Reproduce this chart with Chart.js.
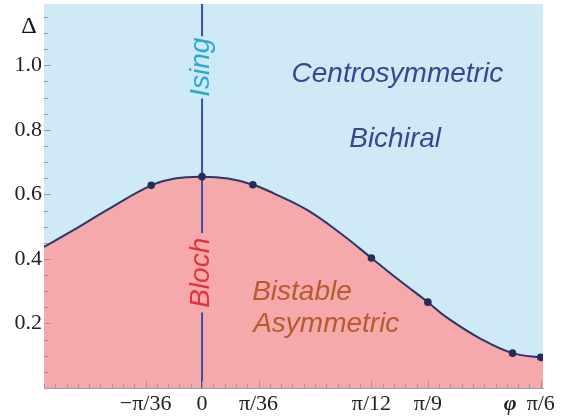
<!DOCTYPE html>
<html>
<head>
<meta charset="utf-8">
<script src="https://cdn.jsdelivr.net/npm/chart.js@4"></script>
<style>
  body { margin: 0; background: #fff; }
  canvas { display: block; }
</style>
</head>
<body>
<canvas id="phaseChart" width="565" height="418"></canvas>
<script>
/* ================= DATA ================= */
// boundary curve, phi in degrees, Delta
const curvePhi   = [-14.0, -11.4, -8.4, -4.5, -2.3, 0, 2.3, 4.5, 6.3, 9.3, 12.2, 15.0, 17.5, 20.0, 21.7, 24.6, 27.5, 30.2];
const curveDelta = [0.437, 0.489, 0.552, 0.628, 0.650, 0.655, 0.649, 0.630, 0.604, 0.552, 0.481, 0.403, 0.333, 0.266, 0.218, 0.154, 0.108, 0.094];

// computed points on the boundary
const markerPhi   = [-4.5, 0, 4.5, 15.0, 20.0, 27.5, 30.0];
const markerDelta = [0.628, 0.655, 0.630, 0.403, 0.266, 0.108, 0.095];

// vertical phi = 0 line, broken where the labels sit
const vlineDelta = [0, 0.234, null, 0.480, 0.897, null, 1.09, 1.19];

const xTickValues = [-5, 0, 5, 15, 20, 27.3, 30];
const xTickLabels = ["\u2212\u03c0/36", "0", "\u03c0/36", "\u03c0/12", "\u03c0/9", "\u03c6", "\u03c0/6"];
const yTickValues = [0.2, 0.4, 0.6, 0.8, 1.0];
const yTickLabels = ["0.2", "0.4", "0.6", "0.8", "1.0"];

const pts = (xs, ys) => xs.map((x, i) => ({ x: x, y: ys[i] }));

/* ================= PLUGINS ================= */
// inward frame ticks, Mathematica style
const frameTicks = {
  id: "frameTicks",
  afterDatasetsDraw(chart) {
    const { ctx, chartArea, scales: { x, y } } = chart;
    ctx.save();
    ctx.strokeStyle = "#9a9a9a";
    ctx.lineWidth = 1;
    ctx.beginPath();
    for (let v = -14; v <= 30; v += 1) {
      const px = Math.round(x.getPixelForValue(v)) + 0.5;
      const len = xTickValues.includes(v) ? 7 : 4;
      ctx.moveTo(px, chartArea.bottom);
      ctx.lineTo(px, chartArea.bottom - len);
    }
    for (let k = 1; k <= 23; k++) {
      const v = k * 0.05;
      const py = Math.round(y.getPixelForValue(v)) + 0.5;
      const len = k % 4 === 0 ? 7 : 4;
      ctx.moveTo(chartArea.left, py);
      ctx.lineTo(chartArea.left + len, py);
    }
    ctx.stroke();
    ctx.restore();
  }
};

// region names and line labels
const regionLabels = {
  id: "regionLabels",
  afterDatasetsDraw(chart) {
    const { ctx, chartArea, scales: { x, y } } = chart;
    ctx.save();
    ctx.textAlign = "center";
    ctx.textBaseline = "alphabetic";
    ctx.font = "italic 28px 'Liberation Sans', Arial, sans-serif";

    ctx.fillStyle = "#3b4692";
    ctx.fillText("Centrosymmetric", x.getPixelForValue(17.3), y.getPixelForValue(0.947));
    ctx.fillText("Bichiral", x.getPixelForValue(17.1), y.getPixelForValue(0.746));

    ctx.fillStyle = "#b85a30";
    ctx.fillText("Bistable", x.getPixelForValue(8.85), y.getPixelForValue(0.274));
    ctx.fillText("Asymmetric", x.getPixelForValue(11.0), y.getPixelForValue(0.172));

    ctx.textBaseline = "middle";
    const rot = (text, color, v) => {
      ctx.save();
      ctx.translate(x.getPixelForValue(0) - 1, y.getPixelForValue(v));
      ctx.rotate(-Math.PI / 2);
      ctx.fillStyle = color;
      ctx.fillText(text, 0, 0);
      ctx.restore();
    };
    rot("Ising", "#2ea6d6", 0.994);
    rot("Bloch", "#e2323e", 0.357);

    // axis symbol
    ctx.fillStyle = "#111";
    ctx.font = "24px 'Liberation Serif', 'Times New Roman', serif";
    ctx.fillText("\u0394", chartArea.left - 15, y.getPixelForValue(1.12));
    ctx.restore();
  }
};

/* ================= CHART ================= */
const serif = "'Liberation Serif', 'Times New Roman', serif";

new Chart(document.getElementById("phaseChart"), {
  type: "line",
  data: {
    datasets: [
      {
        data: pts(markerPhi, markerDelta),
        showLine: false,
        pointRadius: 3.8,
        pointBackgroundColor: "#262b5c",
        pointBorderWidth: 0,
        fill: false
      },
      {
        data: pts(curvePhi, curveDelta),
        borderColor: "#2d3569",
        borderWidth: 2,
        pointRadius: 0,
        tension: 0.4,
        fill: false
      },
      {
        data: vlineDelta.map(v => ({ x: 0, y: v })),
        borderColor: "#3d4ea6",
        borderWidth: 2,
        pointRadius: 0,
        spanGaps: false,
        fill: false
      },
      {
        data: pts(curvePhi, curveDelta),
        borderWidth: 0,
        pointRadius: 0,
        tension: 0.4,
        backgroundColor: "#f5a9aa",
        fill: "origin"
      },
      {
        data: pts(curvePhi, curveDelta),
        borderWidth: 0,
        pointRadius: 0,
        tension: 0.4,
        backgroundColor: "#cdeaf6",
        fill: "end"
      }
    ]
  },
  options: {
    responsive: false,
    animation: false,
    layout: { padding: { top: 3, right: 22, left: 0, bottom: 0 } },
    plugins: {
      legend: { display: false },
      tooltip: { enabled: false }
    },
    scales: {
      x: {
        type: "linear",
        min: -14,
        max: 30.2,
        grid: { display: false, drawTicks: false },
        border: { display: true, color: "#a0a0a0", width: 1 },
        afterBuildTicks: (scale) => {
          scale.ticks = xTickValues.map(v => ({ value: v }));
        },
        afterFit: (scale) => {
          scale.height = 30;
          scale.paddingLeft = 0;
          scale.paddingRight = 0;
        },
        ticks: {
          autoSkip: false,
          maxRotation: 0,
          padding: 3,
          color: "#222",
          font: (ctx) => ({
            family: serif,
            size: 22,
            style: ctx.index === 5 ? "italic" : "normal",
            weight: ctx.index === 5 ? "bold" : "normal"
          }),
          callback: (value, index) => xTickLabels[index]
        }
      },
      y: {
        type: "linear",
        min: 0,
        max: 1.19,
        grid: { display: false, drawTicks: false },
        border: { display: true, color: "#a0a0a0", width: 1 },
        afterBuildTicks: (scale) => {
          scale.ticks = yTickValues.map(v => ({ value: v }));
        },
        afterFit: (scale) => {
          scale.width = 44;
          scale.paddingTop = 0;
          scale.paddingBottom = 0;
        },
        ticks: {
          autoSkip: false,
          padding: 2,
          color: "#222",
          font: { family: serif, size: 22 },
          callback: (value, index) => yTickLabels[index]
        }
      }
    }
  },
  plugins: [frameTicks, regionLabels]
});
</script>
</body>
</html>
